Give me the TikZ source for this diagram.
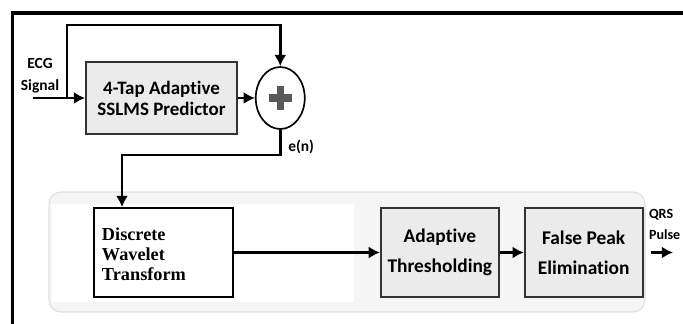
\documentclass[tikz,border=0pt]{standalone}
\usepackage{fontspec}
\setmainfont{Carlito}[Ligatures=NoCommon]
\newfontfamily\dwtfont{Liberation Serif}
\usetikzlibrary{positioning, shapes.geometric, arrows.meta}

\begin{document}
\begin{tikzpicture}[
wire/.style={line width=1.9pt, black},
block/.style={rectangle,
  draw=black!80,
  line width=1.3pt,
  fill=black!8,
  minimum width=2.95cm,
  minimum height=2.225cm,
  inner sep=0pt,
  align=center,
  font=\bfseries\fontsize{13.8}{21}\selectfont
},
lbl/.style={font=\bfseries\fontsize{11}{15.5}\selectfont, inner sep=0pt},
>={Latex[length=2.8mm,width=3mm]}
]
\useasboundingbox (0,0) rectangle (17.075,-8.075);

% outer frame
\draw[line width=2.2pt] (0.3125,-8.4) |- (17.4,-0.325);

% lower stage background
\draw[draw=black!12, line width=0.8pt, fill=black!4, rounded corners=0.3cm]
  (1.225,-4.8) rectangle (16.125,-7.8);
\fill[white] (1.3,-5.1) rectangle (8.85,-7.55);

\node[block, minimum width=3.775cm, minimum height=1.8cm,
  font=\bfseries\fontsize{13.5}{15}\selectfont] (pred) at (4.0375,-2.45)
    {4-Tap Adaptive\\SSLMS Predictor};
\node[ellipse, draw=black, line width=1.2pt, fill=white,
  minimum width=1.225cm, minimum height=1.55cm, inner sep=0pt,
  right= 0.425cm of pred] (sum) {};
\draw[line width=5pt, black!65] ([xshift=-0.29cm]sum.center) -- ([xshift=0.29cm]sum.center);
\draw[line width=5pt, black!65] ([yshift=-0.29cm]sum.center) -- ([yshift=0.29cm]sum.center);

\node[rectangle, draw=black, line width=1.3pt, fill=white,
  minimum height=2.225cm, text width=3.075cm, inner xsep=0.2cm,
  align=left, font=\dwtfont\bfseries\fontsize{13}{14.3}\selectfont]
  (dwt) at (4.0875,-6.3125)
    {\\[-0.5ex]Discrete\\Wavelet\\Transform};
\node[block, right= 3.65cm of dwt] (thr)
    {Adaptive\\Thresholding};
\node[block, right= 0.6cm of thr] (fp)
    {False Peak\\Elimination};

\node[lbl, align=center] (ecg) at (1.0,-1.9)
    {ECG\\Signal};
\node[lbl, anchor=west] (en) at (7.2,-3.67)
    {e(n)};
\node[lbl, anchor=west, align=left, font=\bfseries\fontsize{10}{15}\selectfont]
  (qrs) at (16.22,-5.6)
    {QRS\\Pulse};

\coordinate (in) at (0.825,-2.45);
\coordinate (tap) at (1.675,-2.45);
\coordinate (top) at (1.675,-0.625);
\coordinate (knee) at (3.05,-3.875);
\coordinate (out) at (16.825,-6.3125);

\draw[wire,->] (in) -- (pred);
\draw[wire,->] (tap) -- (top) -| (sum.north);
\draw[wire,->] (pred) -- (sum);
\draw[wire,->] (sum.south) |- (knee) -- (knee |- dwt.north);
\draw[wire,->] (dwt) -- (thr);
\draw[wire,->] (thr) -- (fp);
\draw[wire,->, shorten <=0.175cm] (fp) -- (out);
\end{tikzpicture}
\end{document}
